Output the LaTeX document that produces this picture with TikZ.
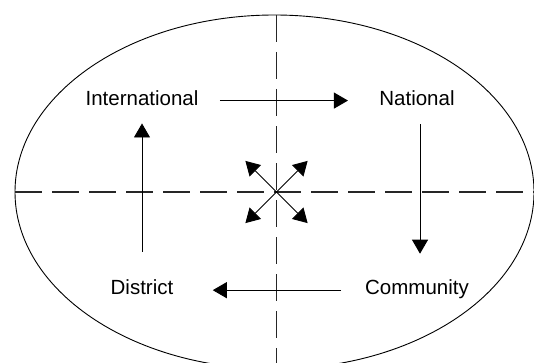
\documentclass[tikz,border=0pt]{standalone}
\usepackage{fontspec}
\setmainfont{Liberation Sans}
\usetikzlibrary{arrows.meta}
\begin{document}
\begin{tikzpicture}[x=1pt,y=1pt,>={Triangle[length=14pt,width=16pt]},line width=0.9pt,
    level/.style={inner sep=0pt,text depth=0pt,anchor=base,font=\fontsize{20.5}{24}\selectfont},
    axis/.style={dash pattern=on 27pt off 10pt,line width=1.2pt,black!85}]
        \useasboundingbox (0,0) rectangle (534,362);
        \clip (0,0) rectangle (534,362);
        \draw (274.5,170) ellipse [x radius=259.5,y radius=177];
        \draw[axis] (276.5,347) -- (276.5,-10);
        \draw[axis] (15,170) -- (534,170);

        \node (intl) [level] at (142,257) {International};
        \node (natl) [level] at (417,257) {National};
        \node (comm) [level] at (417,67.4) {Community};
        \node (dist) [level] at (142,67.4) {District};

        \draw[->,shorten <=21pt,shorten >=31pt] ([yshift=-3pt]intl.east) -- ([yshift=-3pt]natl.west);
        \draw[->,shorten <=19pt,shorten >=25.6pt] ([xshift=3pt]natl.south) -- ([xshift=3pt]comm.north);
        \draw[->,shorten <=23.5pt,shorten >=39pt] ([yshift=-3pt]comm.west) -- ([yshift=-3pt]dist.east);
        \draw[->,shorten <=27.6pt,shorten >=18pt] (dist.north) -- (dist.north |- intl.south);

        \coordinate (hub) at (276.5,170);
        \foreach \a in {45,135,225,315} {
            \path (hub) ++(\a:44) coordinate (tip\a);
            \draw[->] (hub) -- (tip\a);
        }
    \end{tikzpicture}
\end{document}
